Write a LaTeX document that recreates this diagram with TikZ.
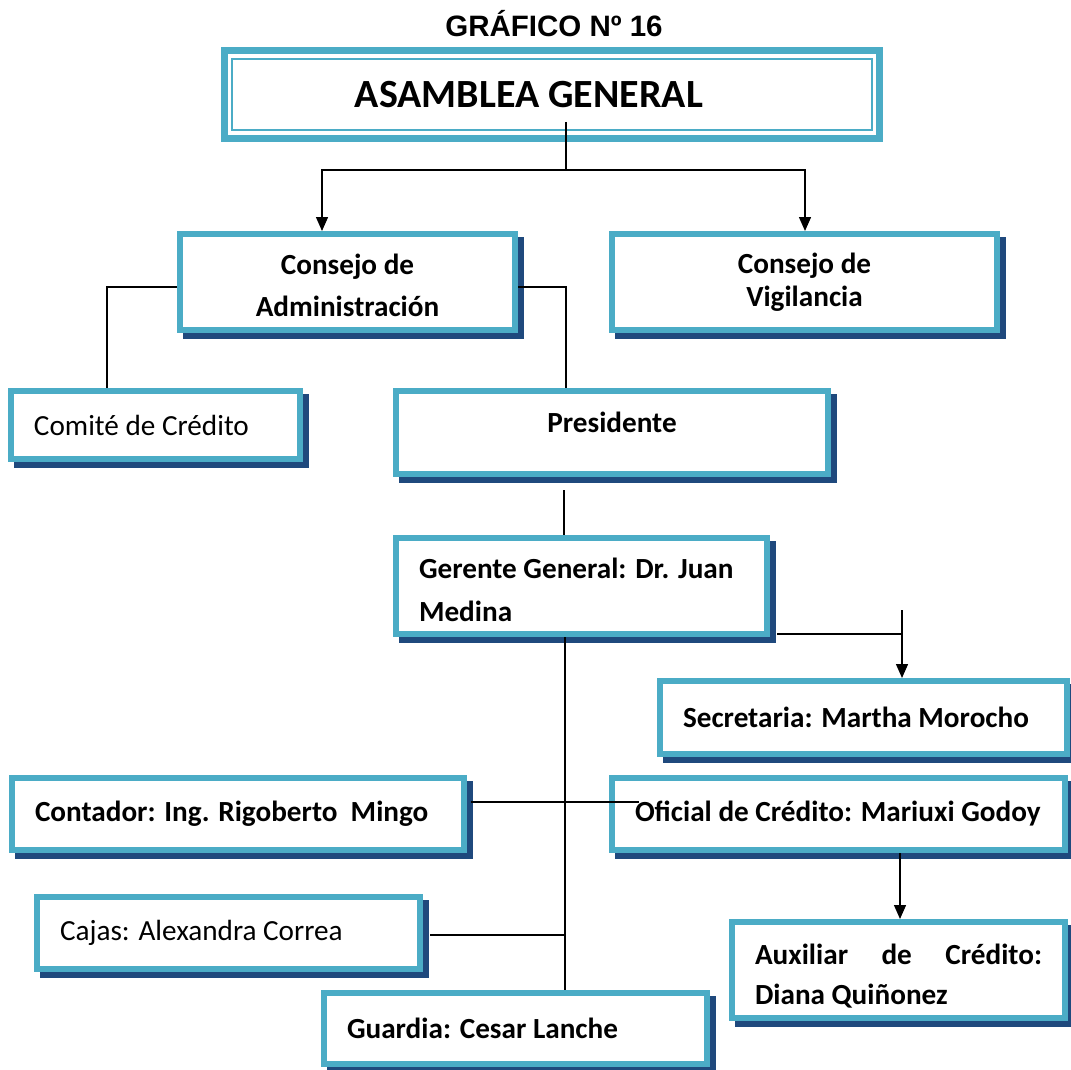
\documentclass[tikz,border=0pt]{standalone}
\usepackage{fontspec}
\setmainfont{Carlito}
\newfontfamily\arialfont{Liberation Sans}
\usetikzlibrary{arrows.meta,shadows,positioning,calc}
\definecolor{frame}{RGB}{75,172,198}
\definecolor{shade}{RGB}{31,73,125}

\begin{document}
\begin{tikzpicture}[x=1pt,y=-1pt,
  headbox/.style={rectangle,draw=frame,line width=7pt,fill=white,inner sep=0pt,
    font=\fontsize{40}{48}\selectfont\bfseries},
  box/.style={rectangle,draw=frame,fill=white,line width=6pt,inner sep=0pt,
    drop shadow={shadow xshift=6pt,shadow yshift=-6pt,fill=shade,draw=shade,
      line width=6pt,opacity=1},
    font=\fontsize{29.2}{34}\selectfont\bfseries,align=center},
  lbox/.style={box,align=flush left,inner xsep=23pt},
  plain/.style={font=\fontsize{29.2}{34}\selectfont},
  link/.style={line width=1.4pt},
  arr/.style={link,-{Triangle[length=14pt,width=12pt]}}]

  \useasboundingbox (0,0) rectangle (1071,1070);

  \node[font=\arialfont\fontsize{29.5}{32}\selectfont\bfseries] (titulo) at (554,24) {GRÁFICO Nº 16};

  \node[headbox,minimum width=655pt,minimum height=88pt] (asam) at (552,94.5)
    {\raisebox{-3pt}{ASAMBLEA GENERAL}\hspace*{46pt}};
  \draw[frame,line width=2pt] ([shift={(11pt,-12pt)}]asam.north west)
    rectangle ([shift={(-11pt,12pt)}]asam.south east);

  \node[box,minimum width=335pt,minimum height=96pt] (admin) at (347.5,282)
    {\rule{0pt}{27pt}Consejo de\\[8pt]Administración};
  \node[box,minimum width=385pt,minimum height=96pt] (vigil) at (804.5,282)
    {Consejo de\\[-1pt]Vigilancia};
  \node[lbox,plain,text width=243pt,minimum height=68pt] (comite) at (155.5,425)
    {Comité de Crédito};
  \node[box,minimum width=432pt,minimum height=83pt,text height=19pt,text depth=19pt]
    (pres) at (612,432.5) {Presidente};
  \node[lbox,text width=325pt,minimum height=96pt] (ger) at (581.5,586)
    {\rule{0pt}{29pt}Gerente General: Dr. Juan\\[9pt]Medina};
  \node[lbox,text width=361pt,minimum height=73pt] (secre) at (863.5,717.5)
    {Secretaria: Martha Morocho};
  \node[lbox,text width=406pt,minimum height=72pt] (conta) at (238,814)
    {Contador: Ing. Rigoberto\ \ Mingo};
  \node[lbox,text width=407pt,minimum height=72pt] (ofic) at (838.5,814)
    {\mbox{Oficial de Crédito: Mariuxi Godoy}};
  \node[lbox,text width=287pt,minimum height=96pt] (aux) at (898.5,970)
    {\rule{0pt}{32pt}Auxiliar\hfill de\hfill Crédito:\\[6pt]Diana Quiñonez};
  \node[lbox,plain,text width=337pt,minimum height=72pt] (cajas) at (228.5,933)
    {Cajas: Alexandra Correa};
  \node[lbox,text width=337pt,minimum height=71pt] (guard) at (515.5,1028.5)
    {Guardia: Cesar Lanche};

  % connectors
  \coordinate (asamTap) at (566,122);
  \coordinate (split) at (566,170);
  \coordinate (gerOut) at (777,634);
  \coordinate (secBend) at (902,634);
  \coordinate (secTop) at (902,610);
  \coordinate (contaOut) at (471,802);
  \coordinate (oficIn) at (639,802);
  \coordinate (cajasOut) at (430,935);
  \coordinate (cajasJoin) at (565,935);

  \draw[link] (asamTap) -- (split);
  \draw[arr] (split) -| (admin.north -| 322,0);
  \draw[arr] (split) -| (vigil.north -| 805,0);
  \draw[link] (admin.west |- 0,287) -| (comite.north -| 107,0);
  \draw[link] (admin.east |- 0,287) -| (pres.north -| 566,0);
  \draw[link,shorten <=13pt] (pres.south -| 564,0) -- (ger.north -| 564,0);
  \draw[link] (gerOut) -- (secBend);
  \draw[arr] (secTop) -- (secre.north -| 902,0);
  \draw[link] (ger.south -| 565,0) -- (guard.north -| 565,0);
  \draw[link] (contaOut) -- (oficIn);
  \draw[link] (cajasOut) -- (cajasJoin);
  \draw[arr] (ofic.south -| 900,0) -- (aux.north -| 900,0);
\end{tikzpicture}
\end{document}
